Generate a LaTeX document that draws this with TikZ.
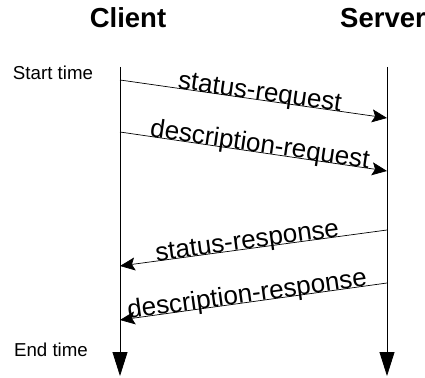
\documentclass[tikz,border=0pt]{standalone}
\usepackage{fontspec}
\setmainfont{Liberation Sans}
\usetikzlibrary{arrows.meta,positioning}

\tikzset{
    lifeline/.style={line width=0.8pt, -{Triangle[length=24pt,width=15pt]}},
    message/.style={line width=0.7pt, -{Stealth[length=15pt,width=13pt,inset=3pt]}},
    msglabel/.style={font=\fontsize{26}{26}\selectfont, sloped, anchor=base, inner sep=0pt, pos=0.52},
    actor/.style={font=\fontsize{27.5}{28}\selectfont\bfseries, inner sep=0pt},
    timelabel/.style={font=\fontsize{18.7}{19}\selectfont, inner sep=0pt}
}

\begin{document}
\begin{tikzpicture}[x=1pt,y=-1pt]
    \useasboundingbox (0,0) rectangle (425,377);

    % Actors
    \node [actor] (client) at (128,18) {Client};
    \node [actor] (server) at (383,18) {Server};

    % Time marks
    \node [timelabel] (start) at (53,73) {Start time};
    \node [timelabel] (end) at (51,350) {End time};

    % Lifelines
    \coordinate (ctop) at (120,67);
    \coordinate (cbot) at (120,376);
    \coordinate (stop) at (387,67);
    \coordinate (sbot) at (387,376);
    \draw [lifeline] (ctop) -- (cbot);
    \draw [lifeline] (stop) -- (sbot);

    % Message ends on the lifelines
    \coordinate (c1) at (120,80);
    \coordinate (s1) at (387,118);
    \coordinate (c2) at (120,132);
    \coordinate (s2) at (387,171);
    \coordinate (s3) at (387,230);
    \coordinate (c3) at (120,266);
    \coordinate (s4) at (387,283);
    \coordinate (c4) at (120,320);

    % Requests
    \draw [message] (c1) -- node [msglabel] {status-request} (s1);
    \draw [message] (c2) -- node [msglabel] {description-request} (s2);

    % Responses
    \draw [message] (s3) -- node [msglabel] {status-response} (c3);
    \draw [message] (s4) -- node [msglabel] {description-response} (c4);
\end{tikzpicture}
\end{document}
